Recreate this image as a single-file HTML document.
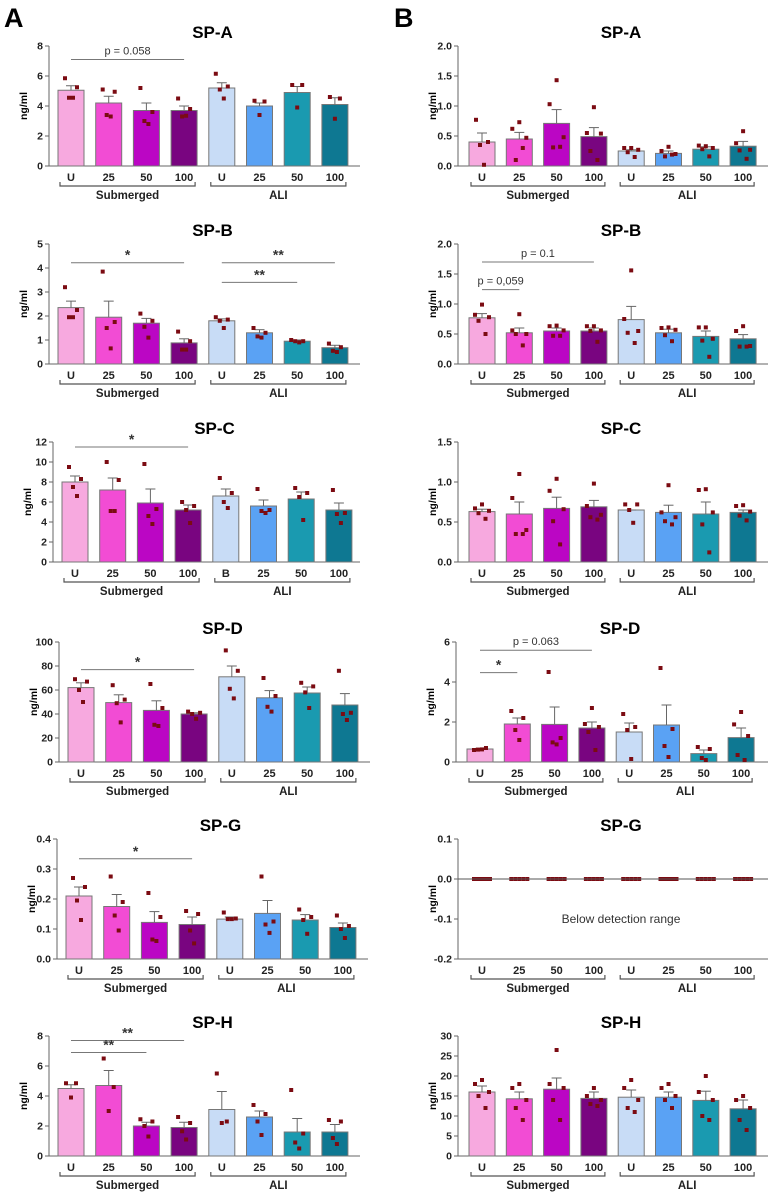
<!DOCTYPE html>
<html><head><meta charset="utf-8">
<style>
html,body{margin:0;padding:0;background:#fff;}
svg{display:block;font-family:"Liberation Sans",Arial,sans-serif;}
</style></head>
<body>
<svg id="fig" width="775" height="1192" viewBox="0 0 775 1192" xmlns="http://www.w3.org/2000/svg">
<text x="4" y="27" font-size="27" font-weight="bold" fill="#000">A</text>
<text x="394" y="27" font-size="27" font-weight="bold" fill="#000">B</text>
</svg>
<script>
// ---------- data ----------
const categoriesSub = ["U","25","50","100"];
const categoriesAli = ["U","25","50","100"];
const categoriesAliC = ["B","25","50","100"];

const aSpA_means=[5.05,4.2,3.7,3.7,5.2,4.0,4.9,4.1];
const aSpA_errs=[5.35,4.65,4.2,4.0,5.55,4.2,5.3,4.55];
const aSpA_dots=[[5.85,5.25,4.55,4.55],[5.1,4.95,3.4,3.3],[5.2,3.6,3.0,2.8],[4.5,3.8,3.3,3.35],[6.15,5.3,5.1,4.5],[4.35,4.3,3.4],[5.4,5.4,3.9],[4.6,4.5,3.15]];
const aSpA_ticks=[0,2,4,6,8];

const aSpB_means=[2.35,1.95,1.7,0.88,1.8,1.3,0.95,0.68];
const aSpB_errs=[2.62,2.62,1.9,1.05,1.88,1.43,1.0,0.78];
const aSpB_dots=[[3.2,2.25,1.95,1.95],[3.85,1.75,1.5,0.65],[2.1,1.8,1.55,1.1],[1.35,0.95,0.6,0.6],[1.95,1.85,1.8,1.5],[1.5,1.3,1.15,1.1],[1.0,0.95,0.95,0.9],[0.85,0.7,0.55,0.5]];
const aSpB_ticks=[0,1,2,3,4,5];

const aSpC_means=[8.0,7.2,5.9,5.2,6.6,5.6,6.3,5.2];
const aSpC_errs=[8.6,8.4,7.3,5.7,7.3,6.2,7.0,5.9];
const aSpC_dots=[[9.5,8.3,7.5,6.6],[10,8.2,5.1,5.1],[9.8,5.3,4.6,3.8],[6.0,5.6,5.2,3.9],[8.4,6.9,6.0,5.4],[7.3,5.2,5.1,4.9],[7.4,6.9,6.5,4.2],[7.2,4.9,4.8,3.9]];
const aSpC_ticks=[0,2,4,6,8,10,12];

const aSpD_means=[62,49.5,43,40,71,53.5,57.5,47.5];
const aSpD_errs=[66,56,51,41,80,59.5,62.5,57];
const aSpD_dots=[[69,67,60,50],[64,52,49,33],[65,45,31,30],[42,41,40,36],[93,76,61,53],[70,55,46,42],[66,63,58,45],[76,41,40,35]];
const aSpD_ticks=[0,20,40,60,80,100];

const aSpG_means=[0.21,0.175,0.122,0.115,0.133,0.152,0.13,0.105];
const aSpG_errs=[0.24,0.215,0.158,0.14,0.14,0.195,0.148,0.12];
const aSpG_dots=[[0.27,0.24,0.195,0.13],[0.275,0.19,0.145,0.095],[0.22,0.14,0.065,0.06],[0.16,0.15,0.095,0.052],[0.155,0.135,0.133,0.133],[0.275,0.125,0.115,0.087],[0.165,0.14,0.13,0.084],[0.145,0.11,0.1,0.07]];
const aSpG_ticks=[0.0,0.1,0.2,0.3,0.4];

const aSpH_means=[4.5,4.7,2.0,1.9,3.1,2.6,1.6,1.6];
const aSpH_errs=[4.75,5.7,2.25,2.25,4.3,3.0,2.5,2.1];
const aSpH_dots=[[4.85,4.85,3.9],[6.5,4.6,3.0],[2.45,2.3,2.0,1.3],[2.6,2.2,1.65,1.1],[5.5,2.3,2.2],[3.4,2.8,2.3,1.4],[4.4,1.5,0.9,0.5],[2.4,2.3,1.2,0.8]];
const aSpH_ticks=[0,2,4,6,8];

const bSpA_means=[0.4,0.45,0.71,0.49,0.25,0.21,0.28,0.33];
const bSpA_errs=[0.55,0.56,0.94,0.64,0.27,0.25,0.32,0.41];
const bSpA_dots=[[0.77,0.4,0.35,0.02],[0.73,0.62,0.47,0.1,0.3],[1.43,1.03,0.48,0.31,0.32],[0.98,0.55,0.54,0.25,0.1],[0.3,0.3,0.27,0.23,0.15],[0.32,0.25,0.2,0.16,0.19],[0.33,0.34,0.3,0.28,0.16],[0.58,0.38,0.27,0.26,0.12]];
const bSpA_ticks=[0.0,0.5,1.0,1.5,2.0];

const bSpB_means=[0.77,0.52,0.55,0.55,0.74,0.52,0.46,0.42];
const bSpB_errs=[0.84,0.6,0.6,0.6,0.96,0.58,0.55,0.49];
const bSpB_dots=[[0.99,0.82,0.78,0.72,0.5],[0.83,0.56,0.5,0.5,0.31],[0.64,0.63,0.56,0.47,0.47],[0.63,0.63,0.56,0.55,0.37],[1.56,0.75,0.55,0.52,0.35],[0.61,0.6,0.57,0.48,0.38],[0.61,0.61,0.42,0.39,0.12],[0.63,0.55,0.3,0.29,0.29]];
const bSpB_ticks=[0.0,0.5,1.0,1.5,2.0];

const bSpC_means=[0.63,0.6,0.67,0.69,0.65,0.62,0.6,0.62];
const bSpC_errs=[0.66,0.75,0.81,0.77,0.65,0.71,0.75,0.65];
const bSpC_dots=[[0.72,0.67,0.64,0.61,0.54],[1.1,0.8,0.4,0.35,0.35],[1.04,0.89,0.66,0.51,0.22],[0.98,0.7,0.59,0.56,0.53],[0.72,0.72,0.65,0.49],[0.96,0.62,0.56,0.51,0.47],[0.91,0.9,0.62,0.47,0.12],[0.71,0.7,0.63,0.58,0.52]];
const bSpC_ticks=[0.0,0.5,1.0,1.5];

const bSpD_means=[0.65,1.9,1.88,1.7,1.5,1.85,0.42,1.22];
const bSpD_errs=[0.68,2.2,2.75,2.0,1.95,2.85,0.6,1.7];
const bSpD_dots=[[0.6,0.7,0.62,0.63],[2.55,2.2,1.6,1.1],[4.5,1.2,0.98,0.88],[2.7,1.9,1.75,1.5,0.6],[2.4,1.75,1.6,0.15],[4.7,1.65,0.8,0.25],[0.75,0.65,0.2,0.1],[2.5,1.88,1.3,0.35,0.1]];
const bSpD_ticks=[0,2,4,6];

const bSpG_values=[0,0,0,0,0,0,0,0];
const bSpG_ticks=[-0.2,-0.1,0.0,0.1];

const bSpH_means=[16,14.3,16.7,14.4,14.7,14.7,13.9,11.8];
const bSpH_errs=[17.5,16,19.5,16,16.5,16,16.2,14];
const bSpH_dots=[[19,18,16,15,12],[18,17,14,12,9],[26.5,18,17,14,9],[17,15,14,13,12.5],[19,17,14,12,11],[18,17,15,14,12],[20,16,14,10,9],[15,14,12,9,6.5]];
const bSpH_ticks=[0,5,10,15,20,25,30];

// ---------- drawing ----------
const NS="http://www.w3.org/2000/svg";
const svg=document.getElementById("fig");
const FILL=["#f7a9df","#f24cd4","#bb06c4","#790580","#c8dcf6","#5aa2f4","#1a9ab0","#0e7892"];
function mk(tag,attrs,parent){const e=document.createElementNS(NS,tag);for(const k in attrs)e.setAttribute(k,attrs[k]);(parent||svg).appendChild(e);return e;}
const JIT={1:[0],2:[-4,4],3:[-5,5,0],4:[-6,6,-2,2],5:[0,-7,7,-3.5,3.5]};

function panel(cfg){
  const g=mk("g",{});
  
  
  const zero=cfg.zeroY, h=120, ax=cfg.axisX, end=cfg.endX;
  const lo=cfg.ticks[0], hi=cfg.ticks[cfg.ticks.length-1];
  const y=v=>zero-(v-lo)/(hi-lo)*h;
  const cx=i=>ax+cfg.first+i*cfg.step;
  const t=mk("text",{x:(ax+end)/2+8,y:zero-128,"font-size":17,"font-weight":"bold","text-anchor":"middle"},g);
  t.textContent=cfg.title;
  
  
  const yl=mk("text",{x:0,y:0,"font-size":10.5,"font-weight":"bold","text-anchor":"middle",transform:`translate(${ax-22},${zero-60}) rotate(-90)`},g);
  yl.textContent="ng/ml";
  
  
  mk("line",{x1:ax,y1:zero-h,x2:ax,y2:zero,stroke:"#666","stroke-width":1},g);
  cfg.ticks.forEach(tv=>{
    mk("line",{x1:ax-4,y1:y(tv),x2:ax,y2:y(tv),stroke:"#666"},g);
    const tl=mk("text",{x:ax-6,y:y(tv)+3.5,"font-size":10.5,"font-weight":"bold","text-anchor":"end",fill:"#222"},g);
    tl.textContent=cfg.tickFmt(tv);
    
    
  });
  mk("line",{x1:ax,y1:zero,x2:end,y2:zero,stroke:"#666","stroke-width":1},g);
  const bw=26;
  for(let i=0;i<8;i++){
    const c=cx(i);
    if(cfg.means){
      const b=mk("rect",{x:c-bw/2,y:y(cfg.means[i]),width:bw,height:zero-y(cfg.means[i]),fill:FILL[i],stroke:"#777","stroke-width":1},g);
      
      
      mk("line",{x1:c,y1:y(cfg.means[i]),x2:c,y2:y(cfg.errs[i]),stroke:"#666"},g);
      mk("line",{x1:c-5,y1:y(cfg.errs[i]),x2:c+5,y2:y(cfg.errs[i]),stroke:"#666"},g);
      const ds=cfg.dots[i], jt=JIT[ds.length];
      ds.forEach((v,k)=>{
        const d=mk("rect",{x:c+jt[k]-2,y:y(v)-2,width:4,height:4,fill:"#7b0b12"},g);
        
        
      });
    } else {
      [-8,-4,0,4,8].forEach(o=>{
        const d=mk("rect",{x:c+o-2,y:y(cfg.values[i])-2,width:4,height:4,fill:"#7b0b12"},g);
        
        
      });
    }
    const cats=i<4?categoriesSub:(cfg.aliCats||categoriesAli);
    const cl=mk("text",{x:c,y:zero+15,"font-size":11,"font-weight":"bold","text-anchor":"middle",fill:"#222"},g);
    cl.textContent=cats[i%4];
    
    
  }
  if(cfg.zeroLine){mk("line",{x1:ax,y1:y(0),x2:end,y2:y(0),stroke:"#555"},g);
    const nt=mk("text",{x:(ax+end)/2+8,y:y(-0.1)+4,"font-size":12,"text-anchor":"middle",fill:"#333"},g);
    nt.textContent="Below detection range";
    
    
  }
  [[0,3,"Submerged"],[4,7,"ALI"]].forEach(([a,b,lab])=>{
    const x1=cx(a)-bw/2+2,x2=cx(b)+bw/2-2,by=zero+20;
    mk("path",{d:`M${x1} ${by-4}V${by}H${x2}V${by-4}`,fill:"none",stroke:"#555","stroke-width":1.2},g);
    const gl=mk("text",{x:(x1+x2)/2,y:by+13,"font-size":11.5,"font-weight":"bold","text-anchor":"middle",fill:"#222"},g);
    gl.textContent=lab;
    
    
  });
  (cfg.sig||[]).forEach(s=>{
    mk("line",{x1:cx(s[0]),y1:y(s[2]),x2:cx(s[1]),y2:y(s[2]),stroke:"#777"},g);
    const st=mk("text",{x:(cx(s[0])+cx(s[1]))/2,y:y(s[2])-(s[3].startsWith("p")?5:3),"font-size":s[3].startsWith("p")?11:14,"font-weight":s[3].startsWith("p")?"normal":"bold","text-anchor":"middle",fill:"#333"},g);
    st.textContent=s[3];
    
    
  });
}
const f0=v=>String(v), f1=v=>v.toFixed(1);
const zeros=[166,364,562,762,959,1156];
const L={endX:360,first:22,step:37.7}, R={endX:768,first:24,step:37.3};
panel({...L,name:"panel-a-sp-a",title:"SP-A",axisX:49,zeroY:zeros[0],ticks:aSpA_ticks,tickFmt:f0,means:aSpA_means,errs:aSpA_errs,dots:aSpA_dots,sig:[[0,3,7.1,"p = 0.058"]]});
panel({...L,name:"panel-a-sp-b",title:"SP-B",axisX:49,zeroY:zeros[1],ticks:aSpB_ticks,tickFmt:f0,means:aSpB_means,errs:aSpB_errs,dots:aSpB_dots,sig:[[0,3,4.22,"*"],[4,7,4.22,"**"],[4,6,3.4,"**"]]});
panel({...L,name:"panel-a-sp-c",title:"SP-C",axisX:53,zeroY:zeros[2],ticks:aSpC_ticks,tickFmt:f0,means:aSpC_means,errs:aSpC_errs,dots:aSpC_dots,aliCats:categoriesAliC,sig:[[0,3,11.5,"*"]]});
panel({...L,endX:370,name:"panel-a-sp-d",title:"SP-D",axisX:59,zeroY:zeros[3],ticks:aSpD_ticks,tickFmt:f0,means:aSpD_means,errs:aSpD_errs,dots:aSpD_dots,sig:[[0,3,77,"*"]]});
panel({...L,endX:368,name:"panel-a-sp-g",title:"SP-G",axisX:57,zeroY:zeros[4],ticks:aSpG_ticks,tickFmt:f1,means:aSpG_means,errs:aSpG_errs,dots:aSpG_dots,sig:[[0,3,0.334,"*"]]});
panel({...L,name:"panel-a-sp-h",title:"SP-H",axisX:49,zeroY:zeros[5],ticks:aSpH_ticks,tickFmt:f0,means:aSpH_means,errs:aSpH_errs,dots:aSpH_dots,sig:[[0,3,7.7,"**"],[0,2,6.9,"**"]]});
panel({...R,name:"panel-b-sp-a",title:"SP-A",axisX:458,zeroY:zeros[0],ticks:bSpA_ticks,tickFmt:f1,means:bSpA_means,errs:bSpA_errs,dots:bSpA_dots});
panel({...R,name:"panel-b-sp-b",title:"SP-B",axisX:458,zeroY:zeros[1],ticks:bSpB_ticks,tickFmt:f1,means:bSpB_means,errs:bSpB_errs,dots:bSpB_dots,sig:[[0,3,1.7,"p = 0.1"],[0,1,1.24,"p = 0,059"]]});
panel({...R,name:"panel-b-sp-c",title:"SP-C",axisX:458,zeroY:zeros[2],ticks:bSpC_ticks,tickFmt:f1,means:bSpC_means,errs:bSpC_errs,dots:bSpC_dots});
panel({...R,name:"panel-b-sp-d",title:"SP-D",axisX:456,zeroY:zeros[3],ticks:bSpD_ticks,tickFmt:f0,means:bSpD_means,errs:bSpD_errs,dots:bSpD_dots,sig:[[0,3,5.59,"p = 0.063"],[0,1,4.47,"*"]]});
panel({...R,name:"panel-b-sp-g",title:"SP-G",axisX:458,zeroY:zeros[4],ticks:bSpG_ticks,tickFmt:f1,values:bSpG_values,zeroLine:true});
panel({...R,name:"panel-b-sp-h",title:"SP-H",axisX:458,zeroY:zeros[5],ticks:bSpH_ticks,tickFmt:f0,means:bSpH_means,errs:bSpH_errs,dots:bSpH_dots});
</script>
</body></html>
